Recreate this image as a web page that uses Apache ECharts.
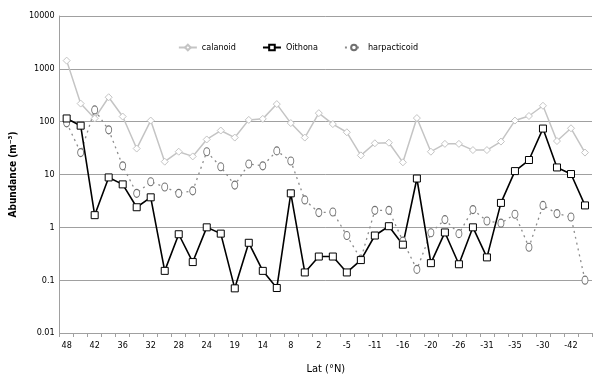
<!DOCTYPE html>
<html><head><meta charset="utf-8">
<script src="https://cdn.jsdelivr.net/npm/echarts@6/dist/echarts.min.js"></script>
<style>html,body{margin:0;padding:0;background:#fff}#c{width:596px;height:386px}</style>
</head><body><div id="c"></div>
<script>
// tick labels shown on every other category
const latLabels = ['48','42','36','32','28','24','19','14','8','2','-5','-11','-16','-20','-26','-31','-35','-30','-42'];
const calanoid = [1430,220,115,290,125,31,105,17.5,27,22,46,68,50,108,113,215,94,50,145,90,63,23,39,40,17,117,27,38,38,29,29,42,105,128,200,43,75,26];
const oithona = [115,84,1.7,8.8,6.5,2.4,3.7,0.15,0.74,0.22,1.0,0.76,0.07,0.51,0.15,0.071,4.4,0.14,0.28,0.28,0.14,0.24,0.7,1.05,0.47,8.4,0.21,0.8,0.2,1.0,0.27,2.9,11.6,18.8,74,13.6,10.2,2.6];
const harpacticoid = [95,26,167,70,14.6,4.4,7.3,5.8,4.4,4.9,27,14,6.3,15.8,14.6,28,18,3.3,1.9,1.95,0.7,0.25,2.1,2.1,0.55,0.16,0.79,1.4,0.76,2.17,1.32,1.2,1.77,0.42,2.6,1.82,1.57,0.10];

const categories = [];
for (let i = 0; i < calanoid.length; i++) categories.push(i % 2 === 0 ? latLabels[i / 2] : '');

const FONT = '"Liberation Sans Narrow", "DejaVu Sans Condensed", "Liberation Sans", Arial, sans-serif';
const chart = echarts.init(document.getElementById('c'), null, {renderer: 'canvas'});
chart.setOption({
  animation: false,
  backgroundColor: '#fff',
  grid: {left: 39, right: 4, top: 16, bottom: 53, containLabel: false},
  legend: {
    top: 38, left: 'center', itemGap: 26, itemWidth: 18, itemHeight: 7,
    textStyle: {fontFamily: FONT, fontSize: 9, color: '#000'},
    data: ['calanoid', 'Oithona', 'harpacticoid']
  },
  xAxis: {
    type: 'category', data: categories, boundaryGap: true,
    name: 'Lat (°N)', nameLocation: 'middle', nameGap: 31,
    nameTextStyle: {fontFamily: FONT, fontSize: 11, color: '#000'},
    axisLine: {lineStyle: {color: '#a0a0a0', width: 1}},
    axisTick: {show: true, interval: 0, length: 4, lineStyle: {color: '#a0a0a0'}},
    axisLabel: {interval: 1, fontFamily: FONT, fontSize: 9, color: '#000', margin: 8}
  },
  yAxis: {
    type: 'log', logBase: 10, min: 0.01, max: 10000, splitNumber: 6,
    name: 'Abundance (m⁻³)', nameLocation: 'middle', nameGap: 28,
    nameTextStyle: {fontFamily: FONT, fontSize: 10, fontWeight: 'bold', color: '#000'},
    axisLine: {show: true, lineStyle: {color: '#a0a0a0', width: 1}},
    axisTick: {show: false},
    axisLabel: {fontFamily: FONT, fontSize: 9, color: '#000', margin: 5,
      formatter: v => String(+v.toPrecision(6))},
    splitLine: {show: true, lineStyle: {color: '#a0a0a0', width: 1}}
  },
  series: [
    {
      name: 'calanoid', type: 'line', data: calanoid,
      symbol: 'diamond', symbolSize: 7, showAllSymbol: true,
      lineStyle: {color: '#c4c4c4', width: 1.5},
      itemStyle: {color: '#fff', borderColor: '#c4c4c4', borderWidth: 1}
    },
    {
      name: 'harpacticoid', type: 'line', data: harpacticoid,
      symbol: 'circle', symbolSize: [6, 8], showAllSymbol: true,
      lineStyle: {color: '#8c8c8c', width: 1.3, type: [2, 4]},
      itemStyle: {color: '#fff', borderColor: '#707070', borderWidth: 1}
    },
    {
      name: 'Oithona', type: 'line', data: oithona,
      symbol: 'rect', symbolSize: 7, showAllSymbol: true,
      lineStyle: {color: '#000', width: 1.6},
      itemStyle: {color: '#fff', borderColor: '#000', borderWidth: 1}
    }
  ]
});
</script></body></html>
